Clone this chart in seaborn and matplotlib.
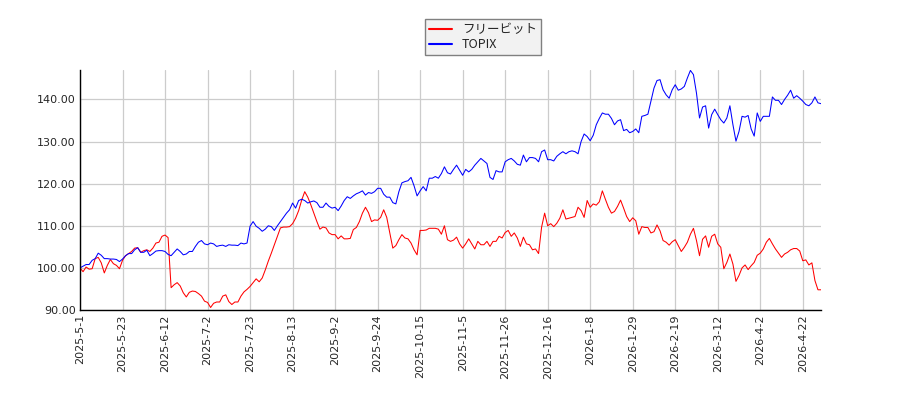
import numpy as np
import pandas as pd
import matplotlib
matplotlib.use("Agg")
import matplotlib.pyplot as plt
import seaborn as sns
from matplotlib.lines import Line2D

series_names = ["フリービット", "TOPIX"]
series_colors = ["#ff0000", "#0000ff"]

tick_labels = ['2025-5-1', '2025-5-23', '2025-6-12', '2025-7-2', '2025-7-23', '2025-8-13',
               '2025-9-2', '2025-9-24', '2025-10-15', '2025-11-5', '2025-11-26', '2025-12-16',
               '2026-1-8', '2026-1-29', '2026-2-19', '2026-3-12', '2026-4-2', '2026-4-22']
tick_step = 14  # trading days between labelled ticks

freebit = [
    100.0, 99.1, 100.2, 99.7, 99.8, 102.2, 102.5, 101.2, 98.8, 100.6,
    102.0, 101.0, 100.6, 99.8, 101.8, 102.9, 103.4, 103.9, 104.7, 104.8,
    103.7, 104.1, 104.3, 103.9, 104.7, 105.9, 106.1, 107.5, 107.8, 107.2,
    95.3, 96.0, 96.5, 95.7, 94.1, 93.1, 94.2, 94.5, 94.4, 93.9,
    93.3, 92.1, 91.8, 90.6, 91.6, 91.9, 91.9, 93.3, 93.6, 92.0,
    91.3, 91.9, 91.9, 93.3, 94.3, 94.9, 95.6, 96.5, 97.4, 96.7,
    97.6, 99.5, 101.6, 103.5, 105.5, 107.5, 109.5, 109.7, 109.7, 109.8,
    110.5, 111.8, 113.6, 116.1, 118.1, 116.8, 115.0, 113.0, 111.0, 109.2,
    109.7, 109.5, 108.3, 107.9, 107.9, 106.9, 107.6, 106.9, 106.9, 107.0,
    109.1, 109.6, 111.0, 113.0, 114.4, 113.1, 111.0, 111.4, 111.3, 112.0,
    113.8, 112.0, 108.3, 104.7, 105.3, 106.7, 107.9, 107.1, 106.9, 105.9,
    104.3, 103.1, 108.9, 108.9, 109.0, 109.4, 109.4, 109.4, 109.2, 108.0,
    110.0, 106.7, 106.3, 106.6, 107.3, 105.7, 104.7, 105.7, 106.9, 105.7,
    104.5, 106.3, 105.5, 105.5, 106.3, 105.1, 106.3, 106.3, 107.5, 107.1,
    108.4, 108.9, 107.5, 108.3, 107.1, 105.1, 107.3, 105.7, 105.5, 104.3,
    104.5, 103.4, 109.7, 113.0, 110.0, 110.5, 109.8, 110.6, 111.8, 113.8,
    111.6, 111.8, 112.0, 112.2, 114.4, 113.6, 112.0, 116.0, 114.4, 115.2,
    114.9, 115.7, 118.3, 116.3, 114.4, 113.0, 113.4, 114.6, 116.1, 114.2,
    112.2, 111.0, 111.9, 111.2, 108.0, 109.8, 109.6, 109.6, 108.3, 108.6,
    110.2, 108.8, 106.5, 106.1, 105.4, 106.2, 106.7, 105.3, 103.9, 104.9,
    106.1, 108.0, 109.4, 106.5, 102.9, 106.8, 107.6, 104.9, 107.5, 108.0,
    105.7, 104.9, 99.8, 101.3, 103.3, 100.9, 96.8, 98.2, 100.0, 100.7,
    99.6, 100.5, 101.3, 103.0, 103.5, 104.5, 106.1, 107.0, 105.7, 104.5,
    103.5, 102.5, 103.3, 103.7, 104.3, 104.6, 104.6, 104.0, 101.7, 101.9,
    100.7, 101.2, 97.0, 94.8, 94.8,
]

topix = [
    100.0, 100.4, 100.8, 100.8, 101.8, 102.2, 103.5, 103.0, 102.2, 102.2,
    102.1, 102.1, 102.0, 101.5, 102.1, 102.9, 103.4, 103.4, 104.3, 104.8,
    103.7, 103.7, 104.2, 102.9, 103.4, 104.0, 104.1, 104.1, 103.9, 103.2,
    102.9, 103.7, 104.5, 103.9, 103.1, 103.3, 103.9, 103.9, 105.1, 106.1,
    106.5, 105.7, 105.5, 105.9, 105.7, 105.1, 105.3, 105.4, 105.1, 105.5,
    105.4, 105.4, 105.3, 105.9, 105.7, 105.9, 109.9, 111.0, 109.9, 109.4,
    108.7, 109.2, 110.0, 109.8, 108.9, 110.0, 111.0, 112.0, 113.0, 113.8,
    115.4, 114.2, 116.0, 116.3, 116.0, 115.4, 115.7, 115.9, 115.5, 114.4,
    114.4, 115.4, 114.6, 114.2, 114.4, 113.6, 114.7, 116.0, 116.9, 116.5,
    117.1, 117.6, 117.9, 118.3, 117.3, 117.9, 117.7, 118.1, 118.9, 118.9,
    117.5, 116.8, 116.8, 115.5, 115.2, 118.1, 120.2, 120.5, 120.7, 121.5,
    119.5, 117.1, 118.3, 119.3, 118.3, 121.3, 121.3, 121.7, 121.3, 122.4,
    124.0, 122.6, 122.3, 123.4, 124.4, 123.2, 122.0, 123.4, 122.8, 123.4,
    124.4, 125.2, 126.0, 125.4, 124.8, 121.5, 121.0, 123.1, 122.8, 122.8,
    125.2, 125.7, 126.0, 125.4, 124.6, 124.4, 126.8, 125.2, 126.2, 126.2,
    126.0, 125.2, 127.6, 128.0, 125.7, 125.7, 125.4, 126.5, 127.1, 127.6,
    127.1, 127.6, 127.8, 127.6, 127.1, 130.0, 131.8, 131.2, 130.2, 131.5,
    134.0, 135.5, 136.8, 136.5, 136.5, 135.5, 134.0, 134.9, 135.2, 132.6,
    132.9, 132.1, 132.4, 133.0, 132.1, 136.0, 136.2, 136.5, 139.6, 142.7,
    144.5, 144.7, 142.3, 141.1, 140.3, 142.3, 143.5, 142.2, 142.5, 143.1,
    145.1, 146.9, 145.9, 141.5, 135.6, 138.2, 138.5, 133.2, 136.4, 137.7,
    136.4, 135.2, 134.4, 135.6, 138.5, 134.0, 130.1, 132.4, 136.0, 135.8,
    136.2, 133.0, 131.3, 136.8, 134.8, 136.0, 136.0, 136.0, 140.6, 139.8,
    139.8, 138.8, 140.0, 141.0, 142.2, 140.3, 140.9, 140.3, 139.6, 138.8,
    138.5, 139.2, 140.6, 139.2, 139.0,
]

y_ticks = [90, 100, 110, 120, 130, 140]

# ---- build long table ----
n = len(freebit)
df = pd.DataFrame({
    "idx": list(range(n)) * 2,
    "value": freebit + topix,
    "series": [series_names[0]] * n + [series_names[1]] * len(topix),
})

sns.set_style("white")
plt.rcParams['font.family'] = ['DejaVu Sans', 'Noto Sans CJK JP']

fig = plt.figure(figsize=(9, 4), dpi=100)
ax = fig.add_axes([80 / 900, 90 / 400, 741 / 900, 240 / 400])

sns.lineplot(data=df, x="idx", y="value", hue="series",
             palette=dict(zip(series_names, series_colors)),
             linewidth=0.75, ax=ax, legend=False, estimator=None, sort=False)

ax.set_xlim(0, n - 1)
ax.set_ylim(90, 147)
ax.set_xticks([i * tick_step for i in range(len(tick_labels))])
ax.set_xticklabels(tick_labels, rotation=90, fontsize=8)
ax.set_yticks(y_ticks)
ax.set_yticklabels([f"{v:.2f}" for v in y_ticks], fontsize=8)
ax.set_xlabel("")
ax.set_ylabel("")
ax.grid(True, color="#cccccc", linewidth=0.9)
ax.set_axisbelow(True)
for s in ["top", "right"]:
    ax.spines[s].set_visible(False)
for s in ["left", "bottom"]:
    ax.spines[s].set_color("black")
    ax.spines[s].set_linewidth(1.0)
ax.tick_params(axis="both", direction="in", length=4, color="black", pad=3)

handles = [Line2D([0], [0], color=c, linewidth=1.5) for c in series_colors]
leg = fig.legend(handles, series_names, loc="upper center",
                 bbox_to_anchor=(483 / 900, 1 - 13 / 400),
                 frameon=True, fancybox=False, framealpha=1.0,
                 facecolor="#f2f2f2", edgecolor="#808080",
                 prop={"family": ["Noto Sans CJK JP", "DejaVu Sans"], "size": 9},
                 handlelength=1.8, handletextpad=0.8, borderpad=0.3, labelspacing=0.2)
leg.get_frame().set_linewidth(1.0)

fig.savefig("out.png", dpi=100)
